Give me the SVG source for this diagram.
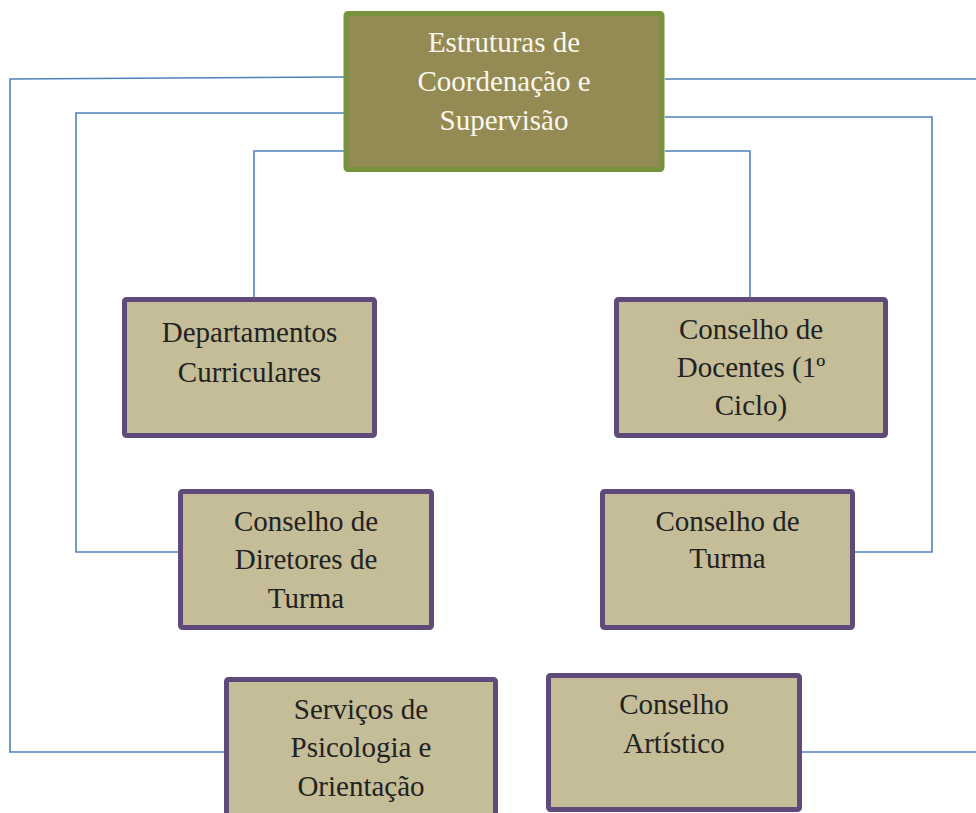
<svg xmlns="http://www.w3.org/2000/svg" width="976" height="813" viewBox="0 0 976 813">
<style>
.c{fill:none;stroke:#4f81bd;stroke-width:1.6}
.n rect{fill:#c4bd97;stroke:#5f4a7a;stroke-width:5}
.n text,.t text{font-family:"Liberation Serif","Times New Roman",serif;font-size:29px;text-anchor:middle}
.n text{fill:#222}
.t rect{fill:#948a54;stroke:#76923c;stroke-width:5}
.t text{fill:#fbf8ee}
</style>
<rect width="976" height="813" fill="#fff"/>
<g id="connectors">
<polyline class="c" points="344,77 10,79 10,752 226,752"/>
<polyline class="c" points="344,113 76,113 76,552 180,552"/>
<polyline class="c" points="344,151 254,151 254,298"/>
<polyline class="c" points="665,79 976,79"/>
<polyline class="c" points="665,117 932,117 932,552 854,552"/>
<polyline class="c" points="665,151 750,151 750,298"/>
<polyline class="c" points="801,752 976,752"/>
</g>
<g id="estruturas" class="t">
<rect x="346" y="13.5" width="316" height="156" rx="2"/>
<text x="504" y="52">Estruturas de</text>
<text x="504" y="91">Coordenação e</text>
<text x="504" y="130">Supervisão</text>
</g>
<g id="departamentos" class="n">
<rect x="124.5" y="299.5" width="250" height="136" rx="2"/>
<text x="249.5" y="342">Departamentos</text>
<text x="249.5" y="382">Curriculares</text>
</g>
<g id="docentes" class="n">
<rect x="616.5" y="299.5" width="269" height="136" rx="2"/>
<text x="751" y="339">Conselho de</text>
<text x="751" y="377">Docentes (1º</text>
<text x="751" y="415">Ciclo)</text>
</g>
<g id="diretores" class="n">
<rect x="180.5" y="491.5" width="251" height="136" rx="2"/>
<text x="306" y="531">Conselho de</text>
<text x="306" y="569">Diretores de</text>
<text x="306" y="608">Turma</text>
</g>
<g id="turma" class="n">
<rect x="602.5" y="491.5" width="250" height="136" rx="2"/>
<text x="727.5" y="531">Conselho de</text>
<text x="727.5" y="568">Turma</text>
</g>
<g id="servicos" class="n">
<rect x="226.5" y="679.5" width="269" height="160" rx="2"/>
<text x="361" y="719">Serviços de</text>
<text x="361" y="757">Psicologia e</text>
<text x="361" y="796">Orientação</text>
</g>
<g id="artistico" class="n">
<rect x="548.5" y="675.5" width="251" height="134" rx="2"/>
<text x="674" y="714">Conselho</text>
<text x="674" y="753">Artístico</text>
</g>
</svg>
